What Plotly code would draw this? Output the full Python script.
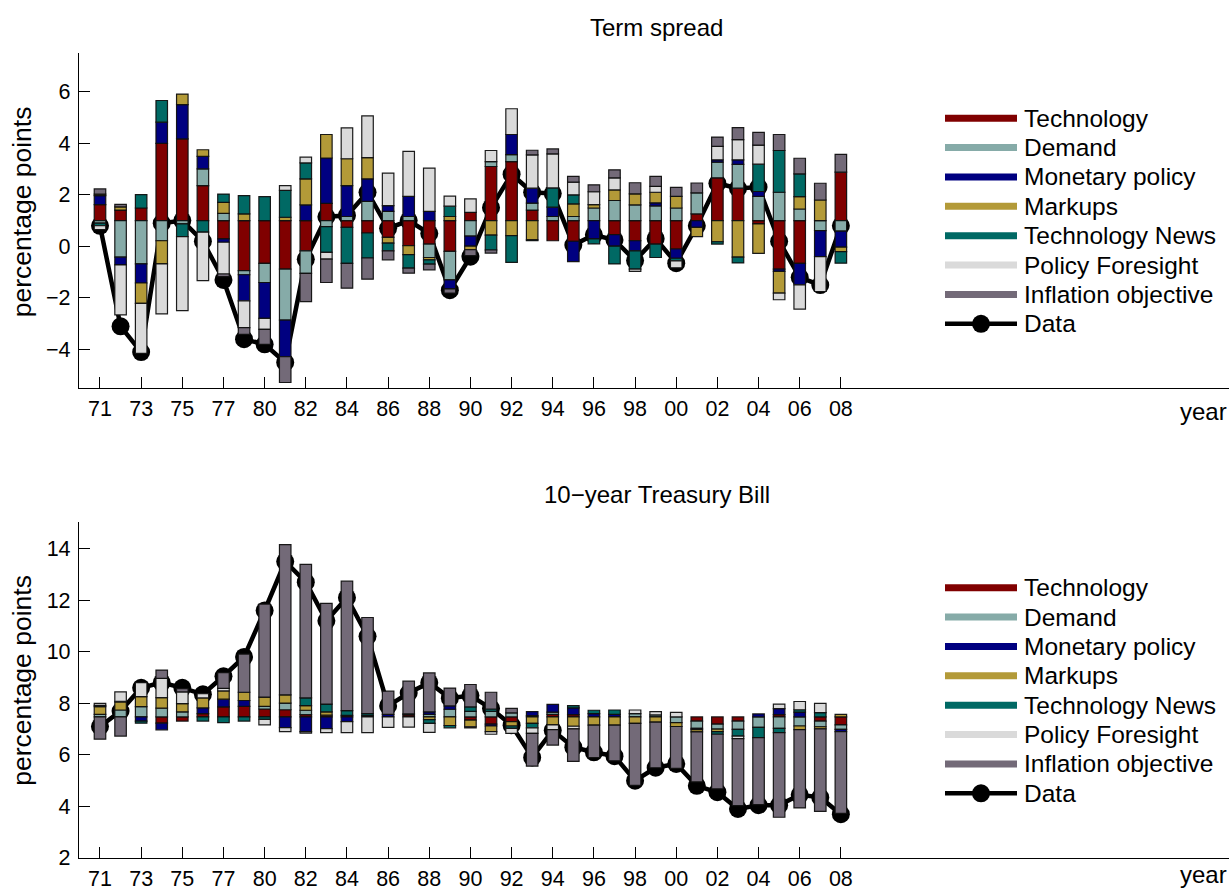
import plotly.graph_objects as go

# ---------------- data ----------------
periods = list(range(1971, 2008))
tick_labels = ["71", "73", "75", "77", "80", "82", "84", "86", "88", "90",
               "92", "94", "96", "98", "00", "02", "04", "06", "08"]
shock_names = ["Technology", "Demand", "Monetary policy", "Markups",
               "Technology News", "Policy Foresight", "Inflation objective"]
shock_colors = ["#800000", "#86ABA8", "#000080", "#B39A38",
                "#006964", "#DADADA", "#736A78"]

# Term spread
ts_baseline = 1.0
ts_data = [0.8, -3.1, -4.1, 0.9, 1.0, 0.2, -1.3, -3.6, -3.8, -4.5, -0.5, 1.15, 1.2, 2.1, 0.7, 1.0, 0.5,
           -1.7, -0.4, 1.5, 2.8, 2.1, 2.05, 0.05, 0.45, 0.25, -0.55, 0.3, -0.65, 0.8, 2.45, 2.25, 2.3,
           0.2, -1.2, -1.5, 0.8]
ts_technology = [.62, .41, .49, 3.0, 3.17, 1.36, -.71, -1.94, -1.66, -1.88, -1.17, .67, -.26, -.48, -.65,
                 -.97, -.91, -1.19, .32, 2.1, 2.29, .41, -.78, -.8, 0, -.54, -.78, -.91, -1.1, .26, 1.66,
                 1.26, -.13, -1.88, -1.66, 0, 1.88]
ts_demand = [-.1, -1.42, -1.68, -.78, -.13, .65, .28, -.16, -.74, -1.98, -.88, -.23, .16, .75, .36, .16,
             -.52, -1.11, -.6, .19, .27, .27, .16, .16, .49, .78, .61, .57, .49, .82, .61, .92, .94, 1.1,
             .45, -.39, -.41]
ts_monetary = [.35, -.3, -.74, .82, 1.33, .48, -.13, -1.01, -1.39, -1.42, .61, 1.76, 1.2, .87, .22, .78,
               .36, -.35, -.39, 0, .78, .58, .36, -.79, -.71, -.45, -.39, .12, -.36, -.26, .09, .18, .19,
               -.09, -.83, -1.01, -.62]
ts_markups = [.06, .12, -.79, -.9, .41, .26, .43, .26, 0, .13, 1.01, .91, 1.04, .82, -.22, -.35, -.09,
              .16, -.14, -.56, -.58, -.75, 0, .49, .13, .41, .43, .41, .45, -.36, -.82, -1.42, -1.14,
              -.84, .48, .8, -.17]
ts_news = [-.1, 0, .52, .84, -.49, -.45, .32, .71, .93, 1.04, .62, -1.0, -1.4, -.97, -.3, -.52, -.17, .4,
           0, -.58, -1.04, -.03, .75, .35, -.19, -.69, -.71, -.52, -.1, 0, -.09, -.22, 1.06, 1.62, .88,
           0, -.45]
ts_foresight = [-.15, -1.94, -1.94, -1.94, -2.87, -1.88, -1.23, -1.04, -.43, .19, .22, -.26, 1.2, 1.62,
                1.26, 1.75, 1.68, .39, .52, .43, 1.0, 1.29, 1.32, .49, .5, .47, -.09, .23, -.27, 0, .52,
                .78, .74, -.26, -.94, -1.35, 0]
ts_inflation = [.2, .1, 0, 0, 0, 0, -.1, -.26, -.58, -1.0, -1.09, -.91, -.96, -.82, -.35, -.2, -.22,
                -.16, -.23, -.12, 0, .18, .19, .23, .27, .31, .43, .39, .35, .38, .36, .47, .49, .62,
                .61, .65, .69]

# 10-year Treasury Bill
tb_baseline = 7.47
tb_data = [7.1, 7.7, 8.6, 8.8, 8.6, 8.35, 9.05, 9.8, 11.6, 13.5, 12.7, 11.2, 12.1, 10.6, 7.9, 8.4, 8.8,
           8.2, 8.3, 7.8, 7.15, 5.9, 6.95, 6.3, 6.1, 5.95, 5.0, 5.5, 5.65, 4.8, 4.55, 3.9, 4.05, 4.05,
           4.45, 4.35, 3.7]
tb_technology = [0, 0, 0, -.24, -.16, .13, .39, .41, .31, .28, .09, .07, .06, 0, 0, .08, 0, 0, -.12,
                 -.28, -.18, 0, .1, .09, 0, 0, 0, 0, 0, -.16, -.28, -.16, 0, .09, 0, -.16, -.31]
tb_demand = [.1, .27, .4, .34, .2, 0, 0, 0, .1, .26, .17, 0, 0, 0, 0, 0, .1, .3, .22, .22, .16, .05,
             .09, 0, 0, 0, .13, .08, -.22, -.28, -.19, -.32, -.4, -.44, -.35, -.22, -.17]
tb_monetary = [0, 0, -.16, -.26, 0, .22, .3, .23, 0, -.41, -.57, -.45, -.18, 0, .1, 0, .1, .13, 0,
               -.07, 0, .16, .3, .26, .13, .1, 0, 0, 0, -.05, 0, 0, .12, .23, .19, 0, -.09]
tb_markups = [.3, .31, .39, .41, .32, .39, .32, .32, .36, .32, .18, .13, 0, .05, 0, 0, -.1, -.33, -.26,
              -.22, -.17, -.25, -.31, -.36, -.32, -.32, -.25, -.2, -.15, -.09, -.1, 0, 0, 0, -.14,
              -.08, .1]
tb_news = [.05, .03, -.08, 0, 0, -.16, -.22, -.16, -.09, 0, .3, .3, .19, .08, 0, .04, -.15, -.09, .17,
           .09, -.09, -.17, 0, .09, .13, .17, 0, 0, 0, 0, -.1, -.26, -.4, -.17, .09, .17, 0]
tb_foresight = [.08, .36, .54, .75, .45, .16, .1, 0, -.22, -.16, -.06, -.16, -.43, -.61, -.4, -.39,
                -.35, 0, -.04, -.1, -.2, -.22, -.18, -.1, 0, 0, .14, .13, .18, 0, 0, -.1, 0, .18, .32,
                .36, 0]
tb_inflation = [-.86, -.74, 0, .32, .13, 0, .61, 1.48, 3.61, 5.83, 5.18, 3.91, 5.02, 3.73, .9, 1.27,
                1.51, .69, .87, .65, .17, -1.27, -.6, -1.26, -1.26, -1.38, -2.4, -1.77, -1.62, -1.94,
                -2.12, -2.6, -2.6, -3.28, -3.04, -3.2, -3.17]

ts_contribs = [ts_technology, ts_demand, ts_monetary, ts_markups, ts_news, ts_foresight, ts_inflation]
tb_contribs = [tb_technology, tb_demand, tb_monetary, tb_markups, tb_news, tb_foresight, tb_inflation]

# ---------------- figure ----------------
W, H = 1229, 904
DISPLAY_H = 890
FONT = "Liberation Sans, Arial, Helvetica, sans-serif"

fig = go.Figure()


def add_panel(contribs, baseline, data, xa, ya_line, ya_bar):
    n = len(periods)
    pos = [baseline] * n
    neg = [baseline] * n
    for name, color, vals in zip(shock_names, shock_colors, contribs):
        bases, lens = [], []
        for i, v in enumerate(vals):
            if v > 0:
                bases.append(pos[i]); lens.append(v); pos[i] += v
            elif v < 0:
                bases.append(neg[i]); lens.append(v); neg[i] += v
            else:
                bases.append(baseline); lens.append(None)
        fig.add_trace(go.Bar(x=periods, y=lens, base=bases, name=name, width=0.56,
                             marker=dict(color=color, line=dict(color="rgba(15,15,15,0.95)", width=1.2)),
                             showlegend=False, xaxis=xa, yaxis=ya_bar))
    fig.add_trace(go.Scatter(x=periods, y=data, mode="lines+markers", name="Data",
                             line=dict(color="black", width=4.5),
                             marker=dict(color="black", size=18),
                             showlegend=False, xaxis=xa, yaxis=ya_line))


add_panel(ts_contribs, ts_baseline, ts_data, "x", "y", "y3")
add_panel(tb_contribs, tb_baseline, tb_data, "x2", "y2", "y4")


def px_x(p):
    return p / W


def px_y(p):
    return 1 - p / DISPLAY_H


xr = [1969.98, 2025.86]
ts_range = [-5.51, 7.5]
tb_range = [2.0, 15.05]
tickpos = [periods[i] for i in range(0, len(periods), 2)]

TICK = 21.5
xcommon = dict(range=xr, showline=True, linecolor="black", linewidth=1.3, ticks="inside",
               ticklen=11, tickwidth=1.2, tickcolor="black", tickvals=tickpos, ticktext=tick_labels,
               showgrid=False, zeroline=False, tickfont=dict(family=FONT, size=TICK, color="black"),
               ticklabelstandoff=1, fixedrange=True)
ycommon = dict(showline=True, linecolor="black", linewidth=1.3, ticks="inside", ticklen=11,
               tickwidth=1.2, tickcolor="black", showgrid=False, zeroline=False,
               tickfont=dict(family=FONT, size=TICK, color="black"), ticklabelstandoff=3,
               fixedrange=True)

top_dom = [px_y(388), px_y(53)]
bot_dom = [px_y(857), px_y(521)]

fig.update_layout(
    width=W, height=H,
    margin=dict(l=0, r=0, t=0, b=0),
    paper_bgcolor="white", plot_bgcolor="white",
    barmode="overlay",
    showlegend=False,
    font=dict(family=FONT, color="black"),
    xaxis=dict(domain=[px_x(79), 1], anchor="y", **xcommon),
    xaxis2=dict(domain=[px_x(79), 1], anchor="y2", **xcommon),
    yaxis=dict(domain=top_dom, anchor="x", range=ts_range, tickvals=[-4, -2, 0, 2, 4, 6], **ycommon),
    yaxis2=dict(domain=bot_dom, anchor="x2", range=tb_range, tickvals=[2, 4, 6, 8, 10, 12, 14],
                **ycommon),
    yaxis3=dict(overlaying="y", anchor="x", range=ts_range, visible=False, fixedrange=True),
    yaxis4=dict(overlaying="y2", anchor="x2", range=tb_range, visible=False, fixedrange=True),
)

annotations = []
shapes = []
TITLE = 24
LEG = 24.5
LAB = 26.5
# titles
annotations.append(dict(text="Term spread", x=px_x(656), y=px_y(27), xref="paper", yref="paper",
                        showarrow=False, xanchor="center", yanchor="middle",
                        font=dict(family=FONT, size=TITLE, color="black")))
annotations.append(dict(text="10\u2212year Treasury Bill", x=px_x(657), y=px_y(494), xref="paper",
                        yref="paper", showarrow=False, xanchor="center", yanchor="middle",
                        font=dict(family=FONT, size=TITLE, color="black")))
# axis labels
for yc in (212, 680):
    annotations.append(dict(text="percentage points", x=px_x(22), y=px_y(yc), xref="paper",
                            yref="paper", showarrow=False, textangle=-90, xanchor="center",
                            yanchor="middle", font=dict(family=FONT, size=LAB, color="black")))
for yc in (411, 874):
    annotations.append(dict(text="year", x=1.0, y=px_y(yc), xref="paper", yref="paper",
                            showarrow=False, xanchor="right", yanchor="middle",
                            font=dict(family=FONT, size=TITLE, color="black")))

# legends (one per panel)
legend_labels = shock_names + ["Data"]
for y0 in (118, 587):
    for k, lab in enumerate(legend_labels):
        yc = y0 + 29.35 * k
        if k < len(shock_names):
            shapes.append(dict(type="line", xref="paper", yref="paper", x0=px_x(945), x1=px_x(1017),
                               y0=px_y(yc), y1=px_y(yc), line=dict(color=shock_colors[k], width=7)))
        else:
            shapes.append(dict(type="line", xref="paper", yref="paper", x0=px_x(945), x1=px_x(1017),
                               y0=px_y(yc), y1=px_y(yc), line=dict(color="black", width=4.5)))
            shapes.append(dict(type="circle", xref="paper", yref="paper", x0=px_x(981 - 9),
                               x1=px_x(981 + 9), y0=px_y(yc + 9), y1=px_y(yc - 9),
                               fillcolor="black", line=dict(color="black", width=0)))
        annotations.append(dict(text=lab, x=px_x(1022), y=px_y(yc), xref="paper", yref="paper",
                                showarrow=False, xanchor="left", yanchor="middle",
                                font=dict(family=FONT, size=LEG, color="black")))

fig.update_layout(annotations=annotations, shapes=shapes)

fig.write_html("out.html", config={"displayModeBar": False},
               post_script="document.documentElement.style.margin='0';"
                           "document.body.style.margin='0';")
